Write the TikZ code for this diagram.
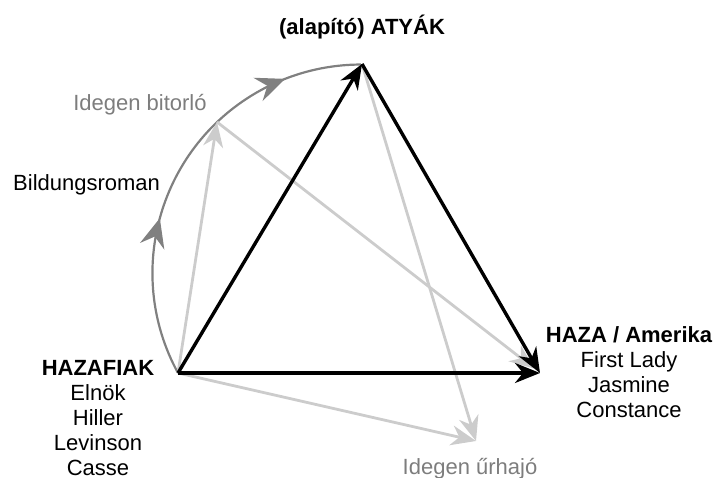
\documentclass[tikz,border=0pt]{standalone}
\usepackage{fontspec}
\setmainfont{Liberation Sans}
\usetikzlibrary{arrows.meta,decorations.markings}
\definecolor{edgelight}{RGB}{204,204,204}
\definecolor{arcgray}{RGB}{128,128,128}
\definecolor{labelgray}{RGB}{125,125,125}
\tikzset{
  blackedge/.style={line width=3.4pt, -{Stealth[length=25pt,width=20pt,inset=8pt]}},
  grayedge/.style={edgelight, line width=2.8pt, -{Stealth[length=25pt,width=20pt,inset=8pt]}},
  arcline/.style={arcgray, line width=2.2pt,
    decoration={markings,
      mark=at position 0.37 with {\arrow{Stealth[length=29pt,width=25pt,inset=10pt]}},
      mark=at position 0.82 with {\arrow{Stealth[length=29pt,width=25pt,inset=10pt]}}},
    postaction={decorate}},
  lbl/.style={inner sep=0pt, font=\fontsize{22}{25}\selectfont},
}
\begin{document}
\begin{tikzpicture}[x=1pt,y=1pt]
    \useasboundingbox (0,0) rectangle (715,-477);
    \coordinate (hazafiak) at (178,-373);
    \coordinate (atyak) at (362,-64);
    \coordinate (amerika) at (540,-373);
    \coordinate (bitorlo) at (217,-122);
    \coordinate (urhajo) at (476,-441);

    \draw[arcline] (hazafiak) arc[start angle=208.65, end angle=90, radius=208.5];

    \draw[grayedge] (hazafiak) -- (bitorlo);
    \draw[grayedge, shorten >=7pt] (bitorlo) -- (amerika);
    \draw[grayedge] (atyak) -- (urhajo);
    \draw[grayedge] (hazafiak) -- (urhajo);

    \draw[blackedge] (hazafiak) -- (atyak);
    \draw[blackedge] (atyak) -- (amerika);
    \draw[blackedge] (hazafiak) -- (amerika);

    \node[lbl, anchor=base] (atyaklbl) at (362,-34) {\bfseries (alapító) ATYÁK};
    \node[lbl, anchor=base, labelgray] (bitorlolbl) at (140,-110) {Idegen bitorló};
    \node[lbl, anchor=base west] (bildung) at (13,-190) {Bildungsroman};
    \node[lbl, anchor=north, align=center] (hazafiaklbl) at (98,-360)
        {\bfseries HAZAFIAK\\Elnök\\Hiller\\Levinson\\Casse};
    \node[lbl, anchor=north, align=center] (amerikalbl) at (629,-326)
        {\bfseries HAZA / Amerika\\First Lady\\Jasmine\\Constance};
    \node[lbl, anchor=base, labelgray] (urhajolbl) at (470,-474) {Idegen űrhajó};
\end{tikzpicture}
\end{document}
